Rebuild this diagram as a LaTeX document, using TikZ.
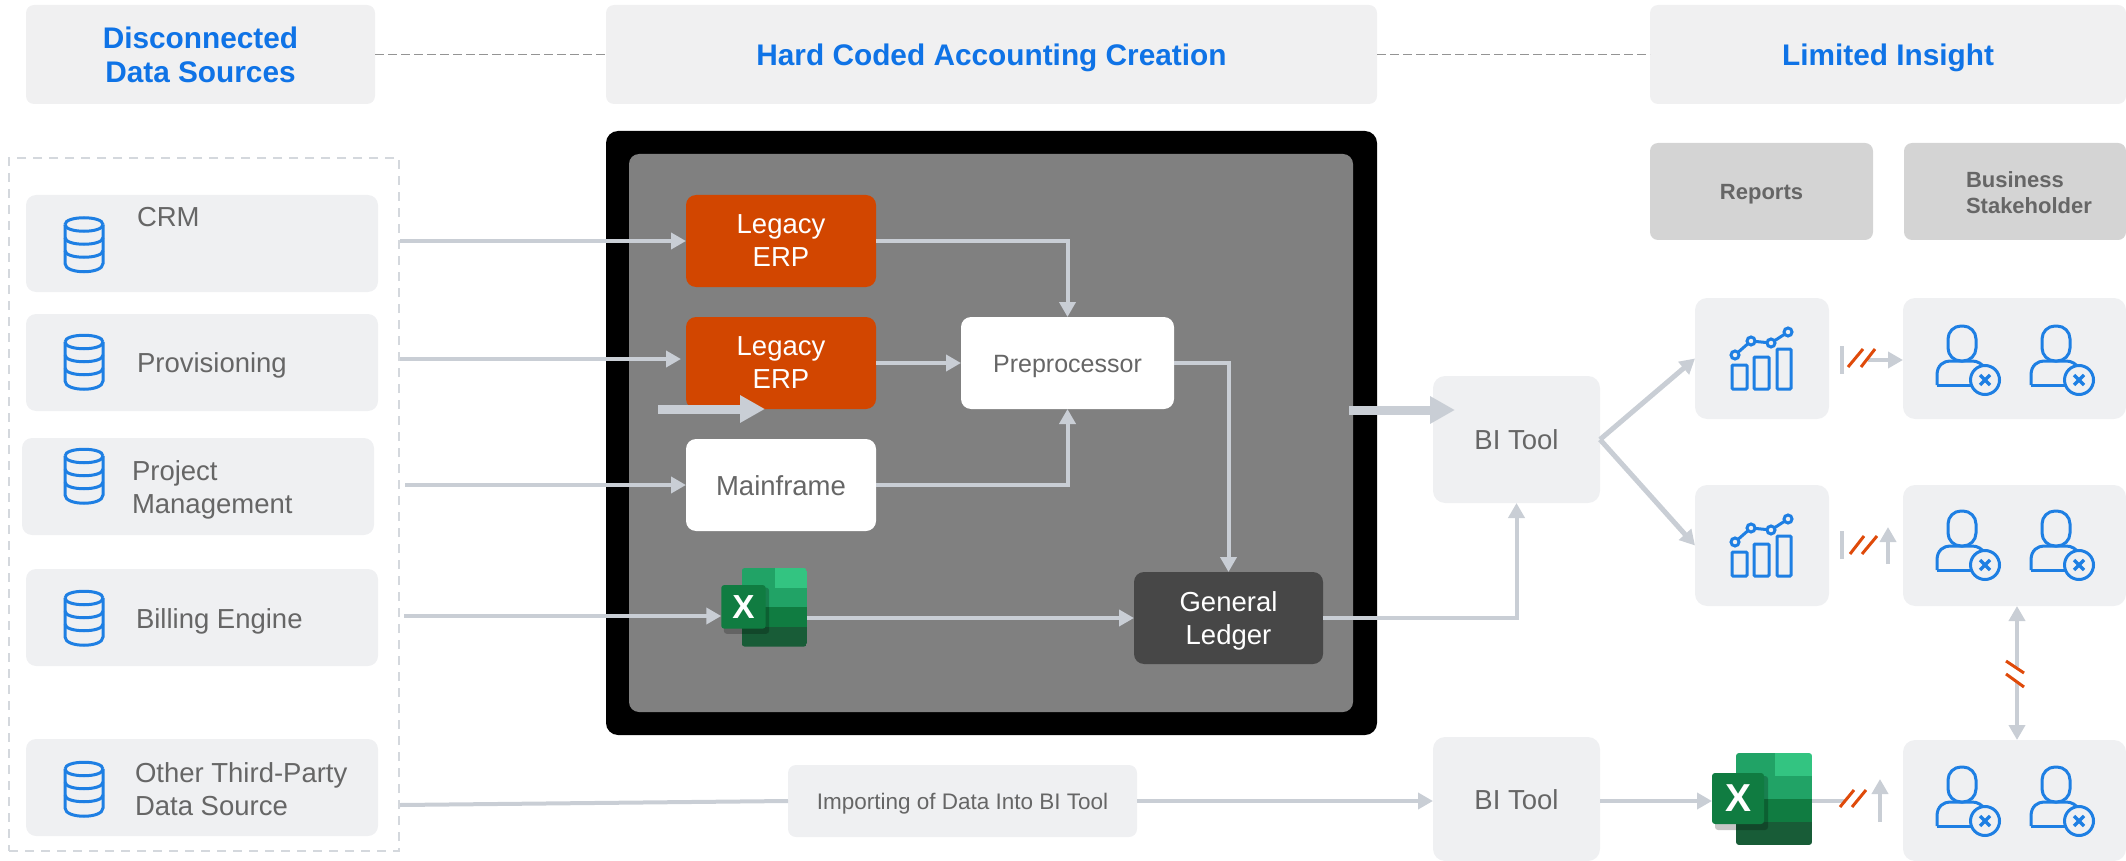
\documentclass[tikz,border=0pt]{standalone}
\usepackage{fontspec}
\setmainfont{Liberation Sans}
\usetikzlibrary{arrows.meta}

\definecolor{boxgrey}{HTML}{EFF0F2}
\definecolor{headgrey}{HTML}{F0F0F1}
\definecolor{tabgrey}{HTML}{D4D4D4}
\definecolor{linegrey}{HTML}{C9CED5}
\definecolor{textgrey}{HTML}{666666}
\definecolor{headblue}{HTML}{0F73E6}
\definecolor{iconblue}{HTML}{1E7FE3}
\definecolor{slashred}{HTML}{DF4A0A}
\definecolor{erpred}{HTML}{D24600}

\tikzset{
    plain/.style={inner sep=0pt, outer sep=0pt, align=center, font=\fontsize{27.5}{33}\selectfont, text=textgrey},
    oneline/.style={text height=20pt, text depth=0pt},
    twoline/.style={text depth=-3pt},
    headbox/.style={plain, anchor=north west, fill=headgrey, rounded corners=8pt, minimum height=99pt, text=headblue, font=\fontsize{29.8}{34}\selectfont\bfseries},
    srcbox/.style={plain, anchor=north west, fill=boxgrey, rounded corners=10pt, minimum width=352pt, minimum height=97pt},
    srctext/.style={plain, anchor=west, align=left},
    procbox/.style={plain, anchor=north west, rounded corners=10pt, minimum width=190pt, minimum height=92pt},
    tabbox/.style={plain, anchor=north west, fill=tabgrey, rounded corners=8pt, minimum height=97pt, font=\fontsize{22}{26}\selectfont\bfseries},
    tilebox/.style={plain, anchor=north west, fill=boxgrey, rounded corners=12pt},
    flow/.style={draw=linegrey, line width=4pt, -{Triangle[length=15pt, width=16pt]}},
    bigflow/.style={draw=linegrey, line width=9pt, -{Triangle[length=25pt, width=26pt]}},
    flowline/.style={draw=linegrey, line width=4pt},
    slash/.style={draw=slashred, line width=3pt},
    headdash/.style={draw=black!42, line width=1.6pt, dash pattern=on 9pt off 4pt},
    icon/.style={draw=iconblue, line width=3pt}
}

% database icon, centred on x y
\newcommand{\dbicon}[2]{
    \begin{scope}[shift={(#1,#2)}]
        \draw[icon] (-19,-20) .. controls (-19,-29) and (19,-29) .. (19,-20);
        \draw[icon] (-19,-20) .. controls (-19,-11) and (19,-11) .. (19,-20);
        \draw[icon] (-19,-7) .. controls (-19,2) and (19,2) .. (19,-7);
        \draw[icon] (-19,6) .. controls (-19,15) and (19,15) .. (19,6);
        \draw[icon] (-19,-20) -- (-19,19) .. controls (-19,30) and (19,30) .. (19,19) -- (19,-20);
    \end{scope}
}

% bar chart icon, origin on the base line
\newcommand{\charticon}[2]{
    \begin{scope}[shift={(#1,#2)}]
        \draw[icon, rounded corners=1pt] (-30,0) rectangle (-15,-24);
        \draw[icon, rounded corners=1pt] (-8,0) rectangle (7,-32);
        \draw[icon, rounded corners=1pt] (15,0) rectangle (29,-40);
        \draw[icon] (-27,-34) -- (-11,-48) -- (9,-46) -- (26,-57);
        \draw[icon, fill=boxgrey] (-27,-34) circle (4pt);
        \draw[icon, fill=boxgrey] (-11,-48) circle (4pt);
        \draw[icon, fill=boxgrey] (9,-46) circle (4pt);
        \draw[icon, fill=boxgrey] (26,-57) circle (4pt);
    \end{scope}
}

% person with a cross, origin at the neck
\newcommand{\usericon}[2]{
    \begin{scope}[shift={(#1,#2)}]
        \draw[icon, rounded corners=13pt] (-14,-35) rectangle (14,0);
        \draw[icon] (-25,24) -- (-25,14) .. controls (-25,4) and (-18,0) .. (-12,0) -- (10,0) .. controls (16,0) and (20,3) .. (24,8);
        \draw[icon] (-25,24) -- (12,24);
        \draw[icon, fill=boxgrey] (23,19) circle (14.5pt);
        \draw[icon, line width=3.4pt] (18,14) -- (28,24);
        \draw[icon, line width=3.4pt] (28,14) -- (18,24);
    \end{scope}
}

% excel icon: name, centre x y, scale
\newcommand{\excelicon}[4]{
    \begin{scope}[shift={(#2,#3)}, scale=#4]
        \begin{scope}
            \clip[rounded corners=3pt] (-26,-48) rectangle (50,44);
            \fill[fill={rgb,255:red,33;green,163;blue,102}] (-26,-48) rectangle (13,-2);
            \fill[fill={rgb,255:red,51;green,196;blue,129}] (13,-48) rectangle (50,-25);
            \fill[fill={rgb,255:red,33;green,163;blue,102}] (13,-25) rectangle (50,-2);
            \fill[fill={rgb,255:red,16;green,124;blue,65}] (-26,-2) rectangle (50,21);
            \fill[fill={rgb,255:red,24;green,92;blue,55}] (-26,21) rectangle (50,44);
        \end{scope}
        \fill[fill=black, opacity=.22, rounded corners=3pt] (-47,-25) rectangle (6,29);
        \fill[fill={rgb,255:red,16;green,124;blue,65}, rounded corners=3pt] (-50,-28) rectangle (2,23);
        \node[plain, transform shape, text=white, font=\fontsize{39}{39}\selectfont\bfseries] (#1x) at (-24,-2.5) {X};
        \node[plain, transform shape, minimum width=100pt, minimum height=92pt] (#1) at (0,0) {};
    \end{scope}
}

\begin{document}
\begin{tikzpicture}[x=1pt, y=-1pt]
    \useasboundingbox (0,0) rectangle (2126,861);

    % these are the headers
    \node[headbox, twoline, minimum width=349pt] (headsrc) at (26,5) {Disconnected\\Data Sources};
    \node[headbox, text height=21.5pt, text depth=0pt, minimum width=771pt] (headcode) at (606,5) {Hard Coded Accounting Creation};
    \node[headbox, text height=21.5pt, text depth=0pt, minimum width=476pt] (headinsight) at (1650,5) {Limited Insight};
    \draw[headdash] (headsrc.east) -- (headcode.west);
    \draw[headdash] (headcode.east) -- (headinsight.west);

    % these are the data sources
    \node[plain, anchor=north west, draw=linegrey!80, line width=1.6pt, dash pattern=on 9pt off 7pt, minimum width=390pt, minimum height=693pt] (srcgroup) at (9,158) {};
    \node[srcbox] (crm) at (26,195) {};
    \node[srcbox] (provis) at (26,314) {};
    \node[srcbox] (project) at (22,438) {};
    \node[srcbox] (billing) at (26,569) {};
    \node[srcbox] (other) at (26,739) {};
    \node[srctext, oneline] (crmtext) at (137,216) {CRM};
    \node[srctext, oneline] (provistext) at (137,362) {Provisioning};
    \node[srctext] (projecttext) at (132,490) {Project\\Management};
    \node[srctext, oneline] (billingtext) at (136,618) {Billing Engine};
    \node[srctext] (othertext) at (135,789.5) {Other Third-Party\\Data Source};
    \dbicon{84}{244.5}
    \dbicon{84}{362}
    \dbicon{84}{476}
    \dbicon{84}{618}
    \dbicon{84}{789}

    % this is the framed block
    \node[plain, anchor=north west, fill=black, rounded corners=12pt, minimum width=771pt, minimum height=604pt] (frame) at (606,131) {};
    \node[plain, anchor=north west, fill=black!50, rounded corners=10pt, minimum width=724pt, minimum height=558pt] (inner) at (629,154) {};
    \node[procbox, twoline, fill=erpred, text=white] (erpa) at (686,195) {Legacy\\ERP};
    \node[procbox, twoline, fill=erpred, text=white] (erpb) at (686,317) {Legacy\\ERP};
    \node[procbox, oneline, fill=white] (mainframe) at (686,439) {Mainframe};
    \node[procbox, text height=18.5pt, text depth=0pt, fill=white, minimum width=213pt, font=\fontsize{25}{30}\selectfont] (preproc) at (961,317) {Preprocessor};
    \node[procbox, twoline, fill=black!72, text=white, minimum width=189pt] (ledger) at (1134,572) {General\\Ledger};
    \excelicon{smallxl}{764}{609}{.855}

    % these are the tiles on the right
    \node[tilebox, oneline, minimum width=167pt, minimum height=127pt] (bitoola) at (1433,376) {BI Tool};
    \node[tilebox, oneline, minimum width=167pt, minimum height=124pt] (bitoolb) at (1433,737) {BI Tool};
    \node[tilebox, text height=16pt, text depth=0pt, minimum width=349pt, minimum height=72pt, rounded corners=8pt, font=\fontsize{22.5}{26}\selectfont] (importing) at (788,765) {Importing of Data Into BI Tool};
    \node[tabbox, text height=16pt, text depth=0pt, minimum width=223pt] (reports) at (1650,143) {Reports};
    \node[tabbox, minimum width=222pt] (stake) at (1904,143) {};
    \node[plain, anchor=west, align=left, font=\fontsize{22}{26}\selectfont\bfseries] (staketext) at (1966,193) {Business\\Stakeholder};
    \node[tilebox, minimum width=134pt, minimum height=121pt] (charta) at (1695,298) {};
    \node[tilebox, minimum width=134pt, minimum height=121pt] (chartb) at (1695,485) {};
    \node[tilebox, minimum width=223pt, minimum height=121pt] (usersa) at (1903,298) {};
    \node[tilebox, minimum width=223pt, minimum height=121pt] (usersb) at (1903,485) {};
    \node[tilebox, minimum width=223pt, minimum height=121pt] (usersc) at (1903,740) {};
    \charticon{1762}{389}
    \charticon{1762}{576}
    \usericon{1962}{361}
    \usericon{2056}{361}
    \usericon{1962}{546}
    \usericon{2056}{546}
    \usericon{1962}{802}
    \usericon{2056}{802}
    \excelicon{bigxl}{1762}{801}{1}

    % these are the free ends
    \coordinate (crmout) at (400,241);
    \coordinate (provisout) at (400,359);
    \coordinate (provisin) at (681,359);
    \coordinate (projectout) at (405,485);
    \coordinate (billingout) at (404,616);
    \coordinate (otherout) at (400,805);
    \coordinate (thickstart) at (658,409);
    \coordinate (thickend) at (765,409);
    \coordinate (framestart) at (1349,410);
    \coordinate (frameend) at (1455,410);
    \coordinate (barat) at (1842,346);
    \coordinate (barato) at (1842,374);
    \coordinate (barbt) at (1842,531);
    \coordinate (barbo) at (1842,559);
    \coordinate (stopa) at (1868,360);
    \coordinate (stopb) at (1888,564);
    \coordinate (upb) at (1888,527);
    \coordinate (stopc) at (1880,822);
    \coordinate (upc) at (1880,779);
    \coordinate (xlstop) at (1846,801);
    \coordinate (gapa) at (2017,667);
    \coordinate (gapb) at (2017,681);

    % these are the connectors
    \draw[flow] (crmout) -- (erpa.west);
    \draw[flow] (provisout) -- (provisin);
    \draw[flow] (projectout) -- (mainframe.west);
    \draw[flow] (billingout) -- (smallxl.west |- billingout);
    \draw[bigflow] (thickstart) -- (thickend);
    \draw[flow] (erpa.east) -| (preproc.north);
    \draw[flow] (erpb.east) -- (preproc.west);
    \draw[flow] (mainframe.east) -| (preproc.south);
    \draw[flow] (preproc.east) -| (ledger.north);
    \draw[flow] (smallxl.east |- ledger.west) -- (ledger.west);
    \draw[flow] (ledger.east) -| (bitoola.south);
    \draw[bigflow] (framestart) -- (frameend);
    \draw[flowline] (otherout) -- (importing.west);
    \draw[flow] (importing.east) -- (bitoolb.west |- importing.east);
    \draw[flow] (bitoolb.east |- bigxl.west) -- (bigxl.west);
    \draw[flowline] (bigxl.east) -- (xlstop);
    \draw[flow, line width=5pt] (bitoola.east) -- (charta.west);
    \draw[flow, line width=5pt] (bitoola.east) -- (chartb.west);
    \draw[flowline] (barat) -- (barato);
    \draw[flowline] (barbt) -- (barbo);
    \draw[flow] (stopa) -- (usersa.west |- stopa);
    \draw[flow] (stopb) -- (upb);
    \draw[flow] (stopc) -- (upc);
    \draw[flow] (gapa) -- (usersb.south -| gapa);
    \draw[flow] (gapb) -- (usersc.north -| gapb);

    % these are the slashes
    \draw[slash] (1848,367) -- (1863,349);
    \draw[slash] (1861,367) -- (1875,349);
    \draw[slash] (1850,554) -- (1864,536);
    \draw[slash] (1862,554) -- (1877,536);
    \draw[slash] (1840,807) -- (1854,790);
    \draw[slash] (1852,807) -- (1866,790);
    \draw[slash] (2006,661) -- (2024,673);
    \draw[slash] (2006,674) -- (2024,687);
\end{tikzpicture}
\end{document}
